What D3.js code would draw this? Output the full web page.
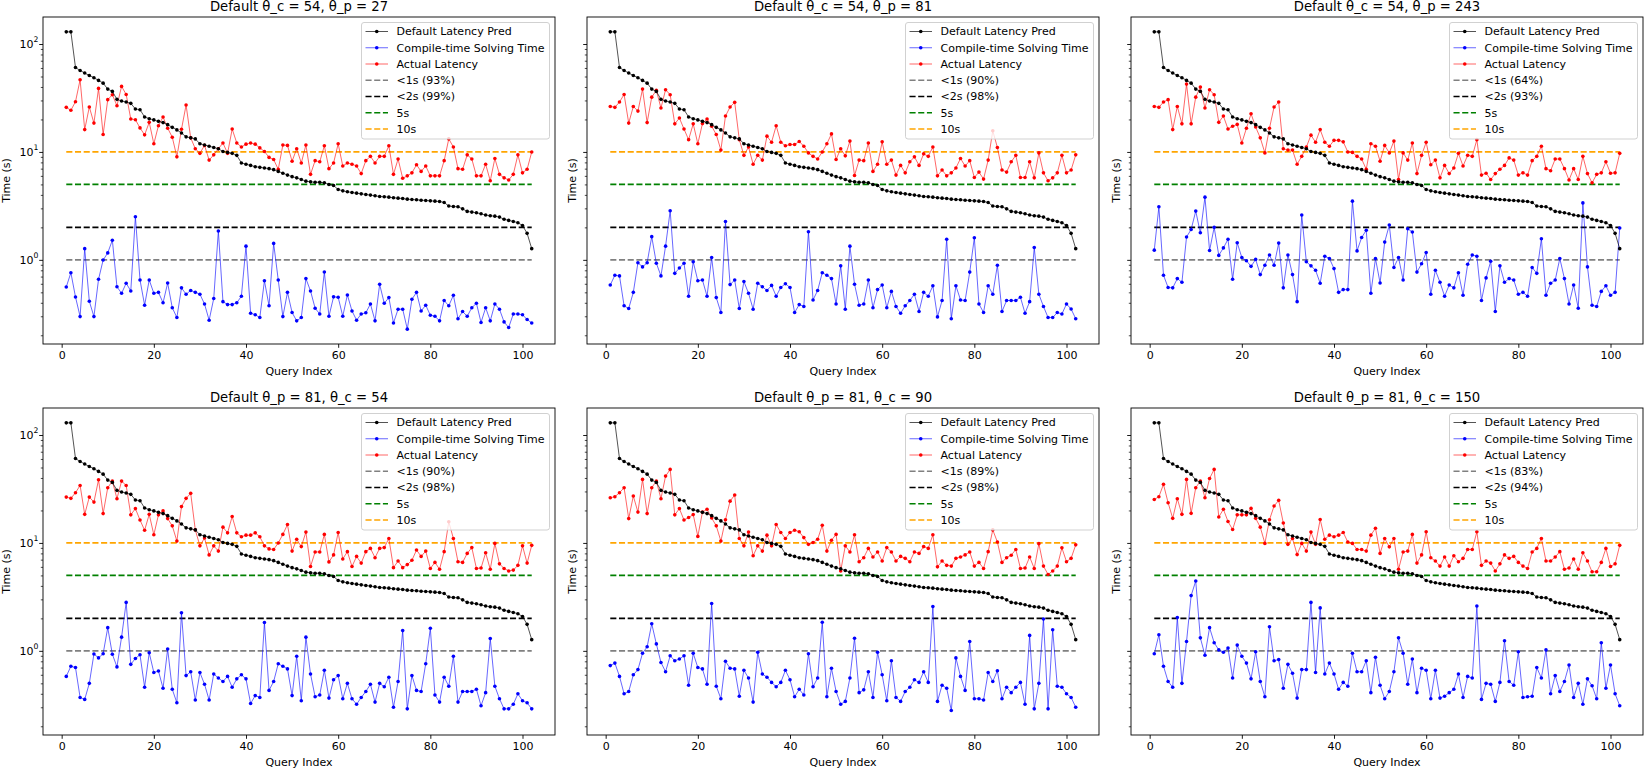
<!DOCTYPE html>
<html>
<head>
<meta charset="utf-8">
<script src="https://cdn.jsdelivr.net/npm/d3@7"></script>
<style>
  body { margin: 0; background: #fff; }
  text { font-family: "DejaVu Sans", sans-serif; }
</style>
</head>
<body>
<div id="chart"></div>
<script>
// query index 1..102
const queryIndex = d3.range(1, 103);

// shared across all panels
const defaultPred = [129.6,129.6,60.6,56.9,53.8,51.1,48.7,46.0,43.4,38.2,
  36.4,30.7,29.6,29.0,28.2,25.0,24.6,21.1,20.3,19.8,
  19.2,18.7,17.9,16.9,16.0,15.0,13.8,13.5,13.2,11.9,
  11.6,11.3,11.0,10.7,10.1,9.9,9.7,9.3,7.9,7.7,
  7.5,7.3,7.2,7.1,7.0,6.85,6.6,6.35,6.1,5.9,
  5.75,5.55,5.36,5.28,5.24,5.24,5.17,4.99,4.88,4.49,
  4.36,4.27,4.21,4.15,4.09,4.03,3.98,3.92,3.86,3.84,
  3.81,3.76,3.73,3.70,3.65,3.62,3.60,3.57,3.55,3.52,
  3.50,3.47,3.40,3.15,3.12,3.10,2.97,2.81,2.77,2.73,
  2.67,2.60,2.56,2.54,2.49,2.38,2.32,2.27,2.21,2.08,
  1.76,1.27];

const actualC54P27 = [25.9,24.3,29.2,46.6,16.1,26.1,18.5,38.8,14.5,30.5,
  33.9,26.8,40.5,34.1,20.2,19.9,16.7,14.4,18.8,11.9,
  17.5,21.1,16.6,13.7,9.0,16.2,27.2,13.5,10.7,9.7,
  11.5,8.4,9.4,10.7,12.1,9.7,16.3,12.1,11.1,11.8,
  12.1,11.8,10.9,10.1,8.9,8.5,6.9,11.6,11.5,8.2,
  10.7,7.9,11.6,6.2,8.3,8.1,11.4,7.0,7.9,11.9,
  7.4,7.9,7.7,7.4,6.3,8.3,9.1,7.9,9.1,9.1,
  11.4,6.2,8.6,5.7,6.0,6.4,7.6,6.6,7.4,6.0,
  6.0,6.0,8.3,13.2,11.1,7.0,6.9,9.4,8.6,6.0,
  6.0,7.7,5.4,8.7,6.2,5.75,5.5,6.2,9.4,6.4,
  6.9,10.0];
const solveC54P27 = [0.561,0.76,0.453,0.298,1.27,0.413,0.298,0.66,0.996,1.16,
  1.52,0.563,0.49,0.607,0.515,2.51,0.651,0.38,0.651,0.49,
  0.50,0.40,0.61,0.36,0.292,0.55,0.48,0.52,0.50,0.48,
  0.39,0.276,0.438,1.85,0.41,0.385,0.385,0.40,0.46,1.34,
  0.32,0.31,0.292,0.64,0.375,1.42,0.65,0.298,0.50,0.325,
  0.272,0.292,0.67,0.515,0.356,0.315,0.772,0.30,0.454,0.45,
  0.30,0.473,0.336,0.276,0.315,0.323,0.39,0.272,0.593,0.396,
  0.447,0.26,0.349,0.349,0.228,0.431,0.50,0.336,0.38,0.307,
  0.30,0.272,0.42,0.375,0.47,0.285,0.332,0.30,0.36,0.396,
  0.263,0.36,0.272,0.39,0.349,0.266,0.236,0.315,0.315,0.31,
  0.28,0.26];

const actualC54P81 = [26.4,25.9,29.0,34.1,18.5,26.4,23.9,38.2,18.7,32.2,
  37.2,25.5,37.7,33.9,18.2,20.6,16.3,13.0,18.2,11.9,
  18.3,20.2,17.3,14.5,10.4,21.5,26.1,28.8,13.0,9.3,
  11.1,7.7,9.3,8.4,14.0,12.3,17.5,12.3,11.4,11.7,
  11.7,12.5,11.3,9.8,9.1,8.6,10.0,11.9,14.7,8.5,
  10.7,9.2,12.6,6.04,8.4,8.3,12.1,6.6,7.7,12.4,
  7.7,8.4,6.1,7.5,6.4,8.1,9.0,7.5,9.6,9.1,
  11.1,6.0,6.8,6.0,6.4,7.1,8.7,7.4,8.3,5.8,
  6.5,5.6,8.4,15.7,11.0,6.8,6.5,8.1,9.3,5.8,
  5.8,8.1,5.75,9.8,6.4,5.4,5.75,6.4,9.3,6.4,
  6.8,9.4];
const solveC54P81 = [0.585,0.72,0.71,0.375,0.354,0.50,0.94,0.86,0.94,1.64,
  0.93,0.71,1.34,2.85,0.75,0.84,0.93,0.46,0.96,0.64,
  0.65,0.46,1.05,0.447,0.325,2.27,0.59,0.65,0.354,0.63,
  0.49,0.349,0.607,0.563,0.52,0.58,0.46,0.555,0.60,0.555,
  0.325,0.385,0.37,1.82,0.425,0.52,0.76,0.72,0.67,0.39,
  0.88,0.349,1.34,0.595,0.38,0.39,0.65,0.36,0.53,0.585,
  0.36,0.51,0.37,0.32,0.375,0.42,0.48,0.332,0.50,0.46,
  0.575,0.296,0.42,1.55,0.285,0.575,0.425,0.42,0.77,1.60,
  0.39,0.325,0.575,0.48,0.89,0.332,0.42,0.42,0.42,0.45,
  0.32,0.41,1.30,0.48,0.37,0.292,0.292,0.325,0.315,0.39,
  0.35,0.285];

const actualC54P243 = [26.4,25.9,29.0,30.5,16.1,26.4,18.2,42.5,18.2,32.2,
  39.9,25.5,37.7,33.9,18.8,21.5,16.3,17.3,18.0,12.1,
  16.6,22.6,17.0,13.5,9.8,16.6,26.1,29.0,10.7,10.4,
  10.4,7.7,9.1,11.1,14.3,12.3,16.1,12.3,11.3,12.8,
  12.8,12.4,10.0,9.9,9.1,8.6,6.9,11.9,11.3,8.2,
  11.5,9.8,12.6,5.55,9.8,8.4,12.1,6.3,9.3,12.3,
  7.6,8.4,5.75,7.5,6.3,7.1,9.7,7.4,9.3,9.1,
  13.0,6.1,6.35,5.55,6.3,6.9,7.5,8.8,8.4,6.1,
  6.4,6.1,8.3,9.1,11.3,7.0,6.7,8.6,8.6,7.0,
  5.5,7.0,5.55,9.1,6.3,5.17,6.2,6.4,8.1,6.35,
  6.4,9.7];
const solveC54P243 = [1.23,3.10,0.72,0.555,0.55,0.67,0.62,1.63,1.91,2.83,
  1.78,3.81,1.22,2.0,1.10,1.29,1.55,0.66,1.44,1.05,
  0.98,0.87,1.01,0.73,0.89,1.11,0.89,1.43,0.55,1.11,
  0.73,0.41,2.60,0.96,0.88,0.80,0.607,1.08,1.03,0.83,
  0.50,0.53,0.53,3.50,1.21,1.61,1.88,0.49,1.03,0.61,
  1.46,2.1,0.85,1.05,0.65,1.94,1.81,0.77,0.92,1.17,
  0.48,0.80,0.62,0.46,0.585,0.55,0.76,0.47,0.91,1.11,
  1.08,0.42,0.68,0.97,0.332,0.88,0.62,0.67,0.65,0.48,
  0.50,0.46,0.85,0.75,1.57,0.47,0.607,0.65,1.03,0.67,
  0.39,0.585,0.356,3.37,0.86,0.38,0.37,0.51,0.575,0.47,
  0.50,1.97];

const actualP81C54 = [26.6,25.9,29.2,34.1,18.4,26.6,23.9,38.5,18.7,32.5,
  37.4,25.7,37.4,34.1,18.2,20.8,16.3,13.1,18.4,11.9,
  18.2,19.8,16.8,14.4,10.4,21.7,25.9,28.8,13.2,9.4,
  11.1,7.75,9.4,8.4,14.0,12.4,17.6,12.4,11.4,11.8,
  11.8,12.4,11.4,9.4,8.8,8.7,10.0,12.0,14.8,8.4,
  10.8,9.25,12.6,6.04,8.25,8.25,12.0,6.67,7.75,12.5,
  7.1,8.3,6.04,7.5,6.5,8.3,8.9,7.3,8.9,9.05,
  11.0,5.9,6.8,5.9,6.3,6.9,8.6,7.5,8.4,5.8,
  6.6,5.7,8.3,15.7,11.0,6.7,6.6,8.0,9.05,5.8,
  5.85,8.1,5.7,9.9,6.4,5.8,5.5,5.6,6.2,9.4,
  6.5,9.5];
const solveP81C54 = [0.58,0.72,0.70,0.37,0.355,0.50,0.935,0.86,0.94,1.64,
  0.93,0.71,1.34,2.81,0.75,0.85,0.92,0.46,0.96,0.63,
  0.65,0.45,1.04,0.44,0.33,2.25,0.59,0.64,0.35,0.63,
  0.49,0.35,0.61,0.56,0.52,0.58,0.46,0.55,0.60,0.55,
  0.325,0.385,0.37,1.83,0.43,0.52,0.76,0.72,0.68,0.385,
  0.89,0.345,1.34,0.61,0.375,0.39,0.66,0.365,0.54,0.59,
  0.36,0.50,0.36,0.32,0.37,0.42,0.49,0.335,0.50,0.465,
  0.57,0.30,0.52,1.54,0.29,0.59,0.43,0.42,0.76,1.62,
  0.39,0.335,0.57,0.47,0.89,0.335,0.42,0.42,0.42,0.44,
  0.31,0.41,1.30,0.47,0.36,0.29,0.29,0.32,0.40,0.345,
  0.33,0.29];

const actualP81C90 = [26.2,26.8,29.2,32.5,16.8,27.2,19.3,38.8,18.7,32.5,
  37.4,25.7,41.6,48.0,18.2,20.8,16.3,17.2,18.3,11.5,
  19.3,20.5,17.0,14.4,10.4,16.4,24.4,27.8,11.0,9.4,
  12.6,7.6,9.4,8.4,11.8,9.4,14.8,12.5,11.0,12.5,
  13.1,12.7,11.2,9.7,10.1,10.8,14.6,8.4,10.6,12.0,
  5.5,9.4,8.25,11.9,6.7,7.3,8.9,7.4,8.25,6.8,
  9.05,8.25,6.8,7.5,7.2,6.7,8.25,8.0,9.25,8.9,
  11.9,6.0,6.8,6.2,6.1,7.2,7.4,7.75,8.25,6.1,
  6.6,5.8,8.3,13.2,10.2,6.6,7.3,7.7,8.7,5.8,
  5.85,7.4,5.8,9.85,6.1,5.1,5.5,6.1,9.0,6.7,
  7.2,9.6];
const solveP81C90 = [0.73,0.77,0.58,0.40,0.42,0.60,0.67,0.95,1.09,1.78,
  1.16,0.78,0.64,0.90,0.81,0.84,0.90,0.48,0.95,0.70,
  0.68,0.49,2.75,0.47,0.36,0.80,0.69,0.68,0.38,0.66,
  0.56,0.335,0.97,0.61,0.57,0.51,0.465,0.51,0.66,0.54,
  0.375,0.44,0.39,0.94,0.465,0.56,1.84,0.375,0.69,0.42,
  0.32,0.34,0.56,1.31,0.41,0.435,0.64,0.37,0.97,0.60,
  0.345,0.81,0.37,0.34,0.42,0.46,0.54,0.51,0.64,0.51,
  2.58,0.34,0.48,0.45,0.28,0.86,0.58,0.43,1.22,0.36,
  0.36,0.35,0.63,0.52,0.655,0.36,0.46,0.41,0.46,0.51,
  0.32,1.39,0.29,0.50,1.97,0.29,1.57,0.47,0.46,0.40,
  0.37,0.30];

const actualP81C150 = [25.3,26.8,34.9,23.6,16.9,25.7,18.4,38.8,18.8,32.5,
  37.4,26.2,39.6,48.0,17.4,20.5,15.8,13.3,18.2,18.2,
  18.2,20.9,16.9,14.0,9.9,16.4,22.0,24.8,15.3,9.7,
  11.0,7.8,9.9,8.4,12.6,9.7,16.5,10.8,11.8,11.4,
  11.8,12.5,10.2,9.9,8.7,8.7,8.4,11.8,13.7,8.0,
  11.0,9.2,11.0,5.7,8.25,8.4,12.0,6.5,7.75,12.7,
  7.3,6.8,6.1,7.4,6.1,7.6,6.7,7.2,8.7,8.7,
  12.7,6.2,6.8,6.5,5.5,6.4,7.75,7.2,7.5,6.6,
  6.1,5.8,8.25,8.9,11.0,6.8,6.8,7.4,8.3,5.7,
  5.85,7.1,5.7,8.1,6.8,5.4,5.4,6.6,8.9,6.05,
  6.4,9.5];
const solveP81C150 = [0.94,1.41,0.72,0.52,0.46,2.04,0.50,1.22,3.25,4.44,
  1.32,0.91,1.64,1.19,1.02,0.97,1.06,0.56,1.13,0.89,
  0.77,0.55,0.98,0.52,0.375,1.67,0.81,0.83,0.45,0.75,
  0.62,0.365,0.67,0.67,2.81,0.63,2.5,0.61,0.77,0.61,
  0.44,0.51,0.47,0.95,0.64,0.64,0.81,0.41,0.87,0.48,
  0.36,0.42,0.64,1.32,0.95,0.49,0.84,0.41,0.69,0.66,
  0.36,0.66,0.365,0.38,0.41,0.44,0.61,0.37,0.58,0.56,
  2.6,0.355,0.50,0.49,0.34,0.51,1.24,0.52,0.48,0.98,
  0.37,0.375,0.38,0.70,0.56,1.02,0.40,0.59,0.42,0.52,
  0.74,0.37,0.50,0.32,0.55,0.475,0.36,1.19,0.45,0.74,
  0.40,0.31];

const panelTitles = [
  'Default θ_c = 54, θ_p = 27', 'Default θ_c = 54, θ_p = 81', 'Default θ_c = 54, θ_p = 243',
  'Default θ_p = 81, θ_c = 54', 'Default θ_p = 81, θ_c = 90', 'Default θ_p = 81, θ_c = 150'
];
const actualSeries = [actualC54P27, actualC54P81, actualC54P243, actualP81C54, actualP81C90, actualP81C150];
const solveSeries = [solveC54P27, solveC54P81, solveC54P243, solveP81C54, solveP81C90, solveP81C150];
const under1sPct = ['93%', '90%', '64%', '90%', '89%', '83%'];
const under2sPct = ['99%', '98%', '93%', '98%', '98%', '94%'];
const xTickValues = [0, 20, 40, 60, 80, 100];
const thresholds = [1, 2, 5, 10];
const thresholdColors = ['gray', 'black', 'green', 'orange'];

// layout
const figW = 1644, figH = 770;
const colLeft = [43, 587, 1131];
const rowTop = [17, 408];
const plotW = 512, plotH = 327;

const svg = d3.select('#chart').append('svg')
  .attr('width', figW).attr('height', figH)
  .style('background', '#fff');

const x = d3.scaleLinear()
  .domain([1 - 0.05 * 101, 102 + 0.05 * 101])
  .range([0, plotW]);

const allVals = [defaultPred].concat(actualSeries, solveSeries).flat();
const [lo, hi] = d3.extent(allVals).map(Math.log10);
const pad = (hi - lo) * 0.05;
const yDomain = [Math.pow(10, lo - pad), Math.pow(10, hi + pad)];

const dash = '6.1,2.6';

function drawPanel(k) {
  const col = k % 3, row = Math.floor(k / 3);
  const g = svg.append('g').attr('transform', `translate(${colLeft[col]},${rowTop[row]})`);
  const y = d3.scaleLog().domain(yDomain).range([plotH, 0]);

  // axes
  const xAxis = d3.axisBottom(x).tickValues(xTickValues).tickSize(3.8).tickPadding(3.5);
  const xg = g.append('g').attr('transform', `translate(0,${plotH})`).call(xAxis);
  xg.select('.domain').remove();
  xg.selectAll('text').attr('font-size', 11).attr('font-family', 'DejaVu Sans').attr('fill', '#000');
  xg.selectAll('line').attr('stroke', '#000').attr('stroke-width', 0.9);

  const minor = y.ticks().filter(v => ![0.1, 1, 10, 100].some(p => Math.abs(v - p) < 1e-9));
  const yMinor = g.append('g').call(d3.axisLeft(y).tickValues(minor).tickSize(2.2).tickFormat(''));
  yMinor.select('.domain').remove();
  yMinor.selectAll('line').attr('stroke', '#000').attr('stroke-width', 0.7);

  const yMajor = g.append('g').call(d3.axisLeft(y).tickValues([1, 10, 100]).tickSize(3.8).tickFormat(''));
  yMajor.select('.domain').remove();
  yMajor.selectAll('line').attr('stroke', '#000').attr('stroke-width', 0.9);

  if (col === 0) {
    [1, 10, 100].forEach(v => {
      const t = g.append('text')
        .attr('x', -4.5).attr('y', y(v)).attr('dy', '0.38em')
        .attr('text-anchor', 'end').attr('font-size', 11);
      t.append('tspan').text('10');
      t.append('tspan').attr('font-size', 7.7).attr('dy', '-0.75em').text(String(Math.round(Math.log10(v))));
    });
  }

  // labels
  g.append('text')
    .attr('x', plotW / 2).attr('y', -6.5)
    .attr('text-anchor', 'middle').attr('font-size', 13.2)
    .text(panelTitles[k]);
  g.append('text')
    .attr('x', plotW / 2).attr('y', plotH + 27).attr('dy', '0.35em')
    .attr('text-anchor', 'middle').attr('font-size', 11)
    .text('Query Index');
  const ylx = col === 0 ? -37 : -14.5;
  g.append('text')
    .attr('transform', `translate(${ylx},${plotH / 2}) rotate(-90)`)
    .attr('dy', '0.35em')
    .attr('text-anchor', 'middle').attr('font-size', 11)
    .text('Time (s)');

  // threshold lines
  g.selectAll('.thr')
    .data(thresholds)
    .enter()
    .append('line')
    .attr('class', 'thr')
    .attr('x1', x(1)).attr('x2', x(102))
    .attr('y1', d => y(d)).attr('y2', d => y(d))
    .attr('stroke', (d, i) => thresholdColors[i])
    .attr('stroke-width', 1.65)
    .attr('stroke-dasharray', dash);

  const line = d3.line().x((d, i) => x(queryIndex[i])).y(d => y(d));
  const series = [
    { data: solveSeries[k], color: 'blue', width: 0.8, op: 0.75 },
    { data: actualSeries[k], color: 'red', width: 0.8, op: 0.75 },
    { data: defaultPred, color: 'black', width: 0.9, op: 0.75 }
  ];
  series.forEach(s => {
    g.append('path')
      .attr('d', line(s.data))
      .attr('fill', 'none')
      .attr('stroke', s.color)
      .attr('stroke-width', s.width)
      .attr('stroke-opacity', s.op);
    g.append('g')
      .selectAll('circle')
      .data(s.data)
      .enter()
      .append('circle')
      .attr('cx', (d, i) => x(queryIndex[i]))
      .attr('cy', d => y(d))
      .attr('r', 1.8)
      .attr('fill', s.color);
  });

  // frame
  g.append('rect')
    .attr('width', plotW).attr('height', plotH)
    .attr('fill', 'none').attr('stroke', '#000').attr('stroke-width', 0.9);

  // legend
  const items = [
    { label: 'Default Latency Pred', color: 'black', kind: 'pt', w: 0.9 },
    { label: 'Compile-time Solving Time', color: 'blue', kind: 'pt', w: 0.8 },
    { label: 'Actual Latency', color: 'red', kind: 'pt', w: 0.8 },
    { label: `<1s (${under1sPct[k]})`, color: 'gray', kind: 'dash' },
    { label: `<2s (${under2sPct[k]})`, color: 'black', kind: 'dash' },
    { label: '5s', color: 'green', kind: 'dash' },
    { label: '10s', color: 'orange', kind: 'dash' }
  ];
  const legW = 188, legH = 116.5;
  const lg = g.append('g').attr('transform', `translate(${plotW - 5.5 - legW},5.5)`);
  lg.append('rect')
    .attr('width', legW).attr('height', legH)
    .attr('rx', 2.5)
    .attr('fill', '#fff').attr('fill-opacity', 0.8)
    .attr('stroke', '#cccccc').attr('stroke-width', 0.9);
  items.forEach((it, i) => {
    const cy = 9 + i * 16.25;
    const h = lg.append('line')
      .attr('x1', 4).attr('x2', 26.5)
      .attr('y1', cy).attr('y2', cy)
      .attr('stroke', it.color);
    if (it.kind === 'pt') {
      h.attr('stroke-width', it.w).attr('stroke-opacity', 0.75);
      lg.append('circle').attr('cx', 15.25).attr('cy', cy).attr('r', 1.8).attr('fill', it.color);
    } else {
      h.attr('stroke-width', 1.65).attr('stroke-dasharray', dash);
    }
    lg.append('text')
      .attr('x', 35).attr('y', cy).attr('dy', '0.36em')
      .attr('font-size', 11)
      .text(it.label);
  });
}

for (let k = 0; k < 6; k++) drawPanel(k);
</script>
</body>
</html>
